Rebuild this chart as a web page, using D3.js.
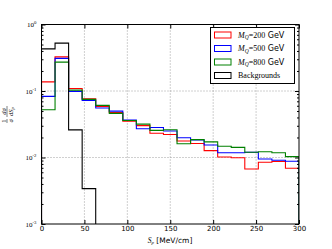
<html>
<head>
<script src="https://d3js.org/d3.v7.min.js"></script>
<style>
body { margin: 0; background: #fff; }
text { font-family: "DejaVu Sans", sans-serif; }
.serif { font-family: "Liberation Serif", "DejaVu Serif", serif; }
</style>
</head>
<body>
<div id="chart"></div>
<script>

// histogram: 19 bins between 0 and 300 MeV/cm
const xMax = 300;
const nBins = 19;

const sig200 = [0.137, 0.326, 0.109, 0.0763, 0.0587, 0.0474, 0.035, 0.0302, 0.0232, 0.0222,
                0.0177, 0.0162, 0.0127, 0.0102, 0.0099, 0.0067, 0.0085, 0.0087, 0.0069];
const sig500 = [0.083, 0.309, 0.0986, 0.0722, 0.0554, 0.0499, 0.0366, 0.0271, 0.0282, 0.025,
                0.0198, 0.0183, 0.0154, 0.0118, 0.0118, 0.012, 0.0095, 0.0091, 0.0088];
const sig800 = [0.0522, 0.272, 0.103, 0.0748, 0.0608, 0.0461, 0.036, 0.0318, 0.0256, 0.0261,
                0.0161, 0.0186, 0.0172, 0.0148, 0.0142, 0.012, 0.0122, 0.0118, 0.0103];
const backgrounds = [0.43, 0.525, 0.026, 0.0034, 0, 0, 0, 0, 0, 0, 0, 0, 0, 0, 0, 0, 0, 0, 0];

const xTicks = [0, 50, 100, 150, 200, 250, 300];
const yTicks = [1e-3, 1e-2, 1e-1, 1];
const yExp = ["-3", "-2", "-1", "0"];

const series = [
  { mass: "200", values: sig200, color: "#ff0000" },
  { mass: "500", values: sig500, color: "#0000ff" },
  { mass: "800", values: sig800, color: "#008000" }
];

const W = 332, H = 249;
const pL = 41.5, pR = 299, pT = 24.5, pB = 224;

var svg = d3.select("#chart").append("svg")
            .attr("width", W)
            .attr("height", H);

var x = d3.scaleLinear().domain([0, xMax]).range([pL, pR]);
var y = d3.scaleLog().domain([1e-3, 1]).range([pB, pT]);

svg.append("clipPath").attr("id", "clip")
   .append("rect")
   .attr("x", pL).attr("y", pT)
   .attr("width", pR - pL).attr("height", pB - pT);

// dotted grid
svg.append("g").selectAll("line")
   .data(xTicks.slice(1, -1))
   .enter().append("line")
   .attr("x1", d => x(d)).attr("x2", d => x(d))
   .attr("y1", pT).attr("y2", pB)
   .attr("stroke", "#888").attr("stroke-width", 0.8)
   .attr("stroke-dasharray", "1,2");

svg.append("g").selectAll("line")
   .data([1e-2, 1e-1])
   .enter().append("line")
   .attr("x1", pL).attr("x2", pR)
   .attr("y1", d => y(d)).attr("y2", d => y(d))
   .attr("stroke", "#888").attr("stroke-width", 0.8)
   .attr("stroke-dasharray", "1,2");

// step outlines
var binW = xMax / nBins;
function stepPoints(vals) {
  var pts = [[0, null]];
  vals.forEach(function (v, i) { pts.push([i * binW, v]); });
  pts.push([xMax, vals[vals.length - 1]]);
  pts.push([xMax, null]);
  return pts;
}
function yPos(v) { return (v && v > 0) ? y(v) : pB + 20; }

var step = d3.line()
             .x(d => x(d[0]))
             .y(d => yPos(d[1]))
             .curve(d3.curveStepAfter);

var plot = svg.append("g").attr("clip-path", "url(#clip)");

series.forEach(function (s) {
  plot.append("path")
      .attr("d", step(stepPoints(s.values)))
      .attr("fill", "none")
      .attr("stroke", s.color)
      .attr("stroke-width", 1.1);
});

plot.append("path")
    .attr("d", step(stepPoints(backgrounds)))
    .attr("fill", "none")
    .attr("stroke", "#000")
    .attr("stroke-width", 1.1);

// axes, ticks inward
var minor = [];
[1e-3, 1e-2, 1e-1].forEach(function (d) {
  for (var k = 2; k < 10; k++) minor.push(d * k);
});

function cleanAxis(g) {
  g.select(".domain").remove();
  g.selectAll("line").attr("stroke", "#000");
}

svg.append("g").attr("transform", "translate(0," + pB + ")")
   .call(d3.axisBottom(x).tickValues(xTicks).tickSize(-4).tickPadding(2.5).tickFormat(d3.format("d")))
   .call(cleanAxis)
   .selectAll("text")
   .attr("font-family", "DejaVu Sans")
   .attr("font-size", "7px")
   .attr("fill", "#000");

svg.append("g").attr("transform", "translate(0," + pT + ")")
   .call(d3.axisTop(x).tickValues(xTicks).tickSize(-4).tickFormat(""))
   .call(cleanAxis);

svg.append("g").attr("transform", "translate(" + pL + ",0)")
   .call(d3.axisLeft(y).tickValues(minor).tickSize(-2).tickFormat(""))
   .call(cleanAxis);

svg.append("g").attr("transform", "translate(" + pR + ",0)")
   .call(d3.axisRight(y).tickValues(minor).tickSize(-2).tickFormat(""))
   .call(cleanAxis);

svg.append("g").attr("transform", "translate(" + pR + ",0)")
   .call(d3.axisRight(y).tickValues(yTicks).tickSize(-4).tickFormat(""))
   .call(cleanAxis);

var yAxis = svg.append("g").attr("transform", "translate(" + pL + ",0)")
   .call(d3.axisLeft(y).tickValues(yTicks).tickSize(-4).tickPadding(5).tickFormat(""))
   .call(cleanAxis);

yAxis.selectAll(".tick text").each(function (d, i) {
  var t = d3.select(this)
            .attr("class", "serif")
            .attr("font-size", "7px")
            .attr("fill", "#000")
            .attr("dy", "0.3em");
  t.append("tspan").text("10");
  t.append("tspan").attr("font-size", "4.8px").attr("dy", "-3").text(yExp[yTicks.indexOf(d)]);
});

// frame
svg.append("rect")
   .attr("x", pL).attr("y", pT)
   .attr("width", pR - pL).attr("height", pB - pT)
   .attr("fill", "none")
   .attr("stroke", "#000")
   .attr("stroke-width", 1);

// x label
var xl = svg.append("text")
            .attr("x", 170).attr("y", 242.5)
            .attr("text-anchor", "middle")
            .attr("font-size", "7.5px");
xl.append("tspan").attr("class", "serif").attr("font-style", "italic").text("S");
xl.append("tspan").attr("class", "serif").attr("font-style", "italic").attr("font-size", "5px").attr("dy", 1.5).text("p");
xl.append("tspan").attr("dy", -1.5).text(" [MeV/cm]");

// y label: 1/sigma dsigma/dS_p
var yl = svg.append("g").attr("transform", "translate(7,114.5) rotate(-90)")
            .attr("font-size", "6.5px");
yl.append("text").attr("class", "serif").attr("x", -6.5).attr("y", -1.5).attr("text-anchor", "middle").text("1");
yl.append("text").attr("class", "serif").attr("x", -6.5).attr("y", 5.5).attr("text-anchor", "middle")
  .attr("font-style", "italic").text("σ");
yl.append("line").attr("x1", -8.5).attr("x2", -4.5).attr("y1", 0).attr("y2", 0)
  .attr("stroke", "#000").attr("stroke-width", 0.5);
yl.append("text").attr("class", "serif").attr("x", 3).attr("y", -1.5).attr("text-anchor", "middle")
  .attr("font-style", "italic").text("dσ");
var den = yl.append("text").attr("class", "serif").attr("x", 3).attr("y", 5.5).attr("text-anchor", "middle")
  .attr("font-style", "italic");
den.append("tspan").text("dS");
den.append("tspan").attr("font-size", "4.5px").attr("dy", 1.2).text("p");
yl.append("line").attr("x1", -2.5).attr("x2", 8.5).attr("y1", 0).attr("y2", 0)
  .attr("stroke", "#000").attr("stroke-width", 0.5);

// legend
var legendItems = series.map(s => ({ label: s.mass, color: s.color }))
                        .concat([{ label: null, color: "#000" }]);

var lg = svg.append("g");
lg.append("rect")
  .attr("x", 210.5).attr("y", 27.5)
  .attr("width", 84).attr("height", 56)
  .attr("fill", "#fff")
  .attr("stroke", "#000")
  .attr("stroke-width", 1);

var rows = lg.selectAll("g.row")
             .data(legendItems)
             .enter().append("g")
             .attr("transform", (d, i) => "translate(0," + (35 + i * 13.5) + ")");

rows.append("rect")
    .attr("x", 214.5).attr("y", -3)
    .attr("width", 16.5).attr("height", 6)
    .attr("fill", "none")
    .attr("stroke", d => d.color)
    .attr("stroke-width", 1);

rows.each(function (d) {
  var t = d3.select(this).append("text")
            .attr("x", 238).attr("y", 2.8)
            .attr("font-size", "8px");
  if (d.label === null) {
    t.attr("class", "serif").text("Backgrounds");
  } else {
    t.append("tspan").attr("class", "serif").attr("font-style", "italic").text("M");
    t.append("tspan").attr("class", "serif").attr("font-style", "italic").attr("font-size", "5.5px").attr("dy", 1.5).text("Q");
    t.append("tspan").attr("class", "serif").attr("dy", -1.5).text("=" + d.label);
    t.append("tspan").text(" GeV");
  }
});

</script>
</body>
</html>
